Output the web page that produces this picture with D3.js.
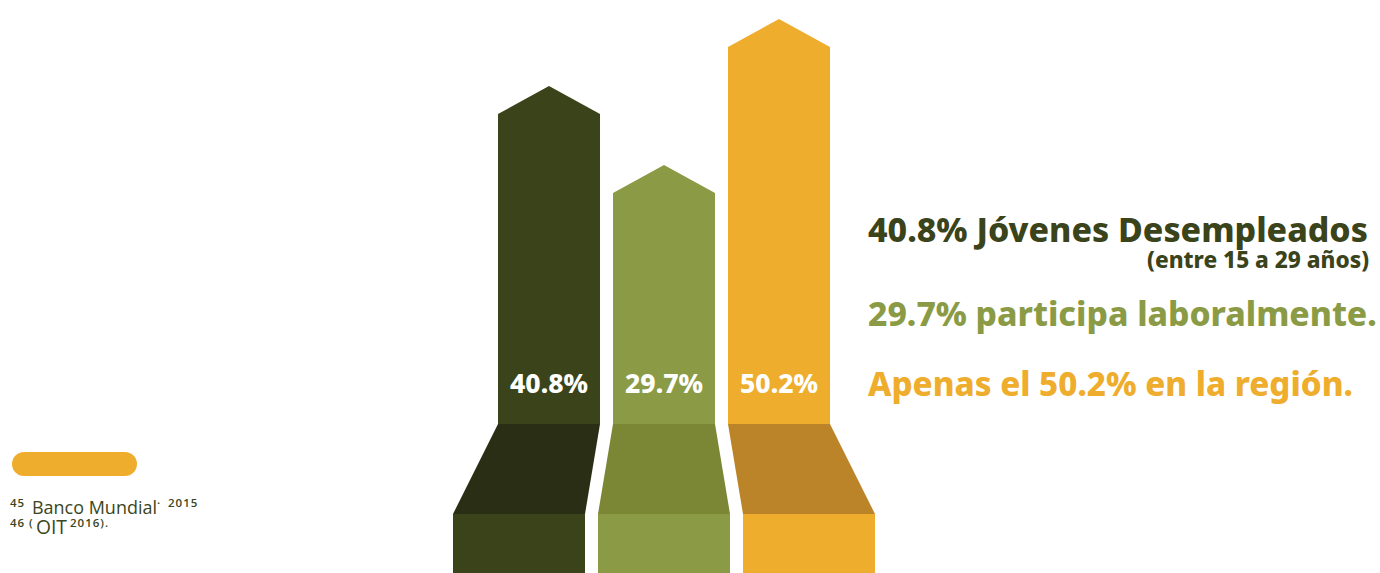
<!DOCTYPE html>
<html>
<head>
<meta charset="utf-8">
<script src="https://cdn.jsdelivr.net/npm/d3@7"></script>
<style>
  html, body { margin: 0; padding: 0; background: #ffffff; }
  svg { display: block; }
</style>
</head>
<body>
<svg id="chart" width="1380" height="573"></svg>
<script>
// ---- data ----
const categories = ["Jóvenes desempleados", "Participa laboralmente", "Región"];
const values = [40.8, 29.7, 50.2];
const valueLabels = ["40.8%", "29.7%", "50.2%"];
const headlineTexts = [
  "40.8% Jóvenes Desempleados",
  "29.7% participa laboralmente.",
  "Apenas el 50.2% en la región."
];
const subNote = "(entre 15 a 29 años)";
const footnoteLines = [
  ["45", "Banco Mundial", "·", "2015"],
  ["46", "(", "OIT", "2016)."]
];

// ---- styles / layout ----
const mainColors = ["#3a431a", "#8b9b45", "#eead2c"];
const shadeColors = ["#292e15", "#7b8734", "#bc8428"];
const textFont = "'Noto Sans', 'Open Sans', sans-serif";
const headWeight = 800;

const svg = d3.select("#chart");
const W = 1380, H = 573;

// scales
const baseY = 424, foldY = 514;
const xTop = d3.scalePoint().domain(categories).range([549, 779]);
const xBottom = d3.scalePoint().domain(categories).range([519, 809]);
const y = d3.scaleLinear().domain([-2.7, 50.2]).range([baseY, 47]);
const topHalf = 51, bottomHalf = 66, headH = 28;

const data = categories.map((c, i) => ({c, v: values[i], label: valueLabels[i], i}));

const g = svg.append("g");

// bottom rectangles
g.selectAll("rect.base").data(data).join("rect")
  .attr("class", "base")
  .attr("x", d => xBottom(d.c) - bottomHalf)
  .attr("y", foldY)
  .attr("width", bottomHalf * 2)
  .attr("height", H - foldY + 2)
  .attr("fill", d => mainColors[d.i]);

// trapezoids
g.selectAll("path.fold").data(data).join("path")
  .attr("class", "fold")
  .attr("d", d => {
    const xt = xTop(d.c), xb = xBottom(d.c);
    return `M${xt - topHalf},${baseY}L${xt + topHalf},${baseY}L${xb + bottomHalf},${foldY}L${xb - bottomHalf},${foldY}Z`;
  })
  .attr("fill", d => shadeColors[d.i]);

// arrows
g.selectAll("path.arrow").data(data).join("path")
  .attr("class", "arrow")
  .attr("d", d => {
    const xt = xTop(d.c), yt = y(d.v);
    return `M${xt - topHalf},${baseY}L${xt - topHalf},${yt}L${xt},${yt - headH}L${xt + topHalf},${yt}L${xt + topHalf},${baseY}Z`;
  })
  .attr("fill", d => mainColors[d.i]);

// fit helper
function fitWidth(sel, target) {
  const node = sel.node();
  const fs = parseFloat(sel.style("font-size"));
  const w = node.getComputedTextLength();
  if (w > 0) sel.style("font-size", (fs * target / w) + "px");
}

// value labels
const vals = g.selectAll("text.val").data(data).join("text")
  .attr("class", "val")
  .attr("x", d => xTop(d.c))
  .attr("y", 393)
  .attr("text-anchor", "middle")
  .attr("fill", "#ffffff")
  .style("font-family", textFont)
  .style("font-weight", headWeight)
  .style("font-size", "26px")
  .text(d => d.label);
fitWidth(g.select("text.val"), 78);
vals.style("font-size", g.select("text.val").style("font-size"));

// headlines
const headSpecs = [
  {y: 242, w: 500},
  {y: 326, w: 509},
  {y: 396, w: 485}
];
headlineTexts.forEach((t, i) => {
  const tx = svg.append("text")
    .attr("x", 868)
    .attr("y", headSpecs[i].y)
    .attr("fill", mainColors[i])
    .style("font-family", textFont)
    .style("font-weight", headWeight)
    .style("font-size", "32px")
    .text(t);
  fitWidth(tx, headSpecs[i].w);
});

const sub = svg.append("text")
  .attr("x", 1369)
  .attr("y", 268)
  .attr("text-anchor", "end")
  .attr("fill", mainColors[0])
  .style("font-family", textFont)
  .style("font-weight", headWeight)
  .style("font-size", "20px")
  .text(subNote);
fitWidth(sub, 222);

// footnote block
svg.append("rect")
  .attr("x", 12).attr("y", 452)
  .attr("width", 125).attr("height", 24)
  .attr("rx", 12).attr("ry", 12)
  .attr("fill", mainColors[2]);

const footY = [514, 534];
const footLayout = [
  [{x: 10, sup: true}, {x: 32, sup: false, w: 125}, {x: 157, sup: true}, {x: 168, sup: true}],
  [{x: 10, sup: true}, {x: 29, sup: true}, {x: 36, sup: false, w: 31}, {x: 70, sup: true}]
];
footnoteLines.forEach((parts, i) => {
  parts.forEach((p, j) => {
    const L = footLayout[i][j];
    const t = svg.append("text")
      .attr("x", L.x)
      .attr("y", L.sup ? footY[i] - 7 : footY[i])
      .attr("fill", "#3b4620")
      .style("font-family", "'Open Sans', 'Noto Sans', sans-serif")
      .style("font-size", L.sup ? "11.5px" : "17px")
      .style("font-weight", L.sup ? 600 : 400)
      .style("letter-spacing", L.sup ? "1px" : "0px")
      .text(p);
    if (L.w) fitWidth(t, L.w);
  });
});
</script>
</body>
</html>
